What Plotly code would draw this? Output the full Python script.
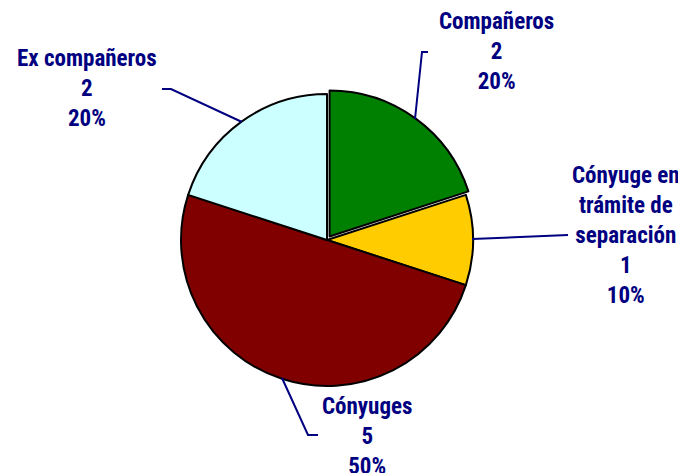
import plotly.graph_objects as go

W, H = 686, 473
OFF = 8  # default page margin around the figure
FW, FH = W - OFF, H - OFF

categories = ["Compañeros", "Cónyuge en trámite de separación", "Cónyuges", "Ex compañeros"]
label_lines = [["Compañeros"], ["Cónyuge en", "trámite de", "separación"], ["Cónyuges"], ["Ex compañeros"]]
values = [2, 1, 5, 2]
colors = ["#008000", "#FFCC00", "#800000", "#CCFFFF"]
pulls = [0.03, 0, 0, 0]

# label block centres (pixels) and leader lines (pixels), in window coordinates
label_pos = [(496, 51), (626, 235), (367, 436), (87, 88)]
leaders = [
    [(415, 119), (422, 52), (428, 52)],
    [(472, 239), (568, 235)],
    [(282, 378), (308, 435), (318, 435)],
    [(162, 89), (171, 89), (242, 122)],
]

cx, cy, r = 327, 240, 146
maxpull = max(pulls)
half = r * (1 + maxpull)

def px(x):
    return (x - OFF) / FW

def py(y):
    return 1 - (y - OFF) / FH

fig = go.Figure(go.Pie(
    labels=categories,
    values=values,
    marker=dict(colors=colors, line=dict(color="black", width=2)),
    pull=pulls,
    sort=False,
    direction="clockwise",
    rotation=0,
    textinfo="none",
    hoverinfo="label+value+percent",
    showlegend=False,
    domain=dict(x=[px(cx - half), px(cx + half)], y=[py(cy + half), py(cy - half)]),
))

total = sum(values)
font = dict(family="Roboto Condensed, Liberation Sans Narrow, Arial Narrow, Liberation Sans, Arial",
            size=23, color="#000080")
for lines, v, (lx, ly) in zip(label_lines, values, label_pos):
    pct = round(100 * v / total)
    txt = "<br>".join(["<b>%s</b>" % s for s in lines + [str(v), "%d%%" % pct]])
    fig.add_annotation(x=px(lx), y=py(ly), xref="paper", yref="paper", text=txt,
                       showarrow=False, font=font, align="center",
                       xanchor="center", yanchor="middle")

for pts in leaders:
    path = "M " + " L ".join("%f,%f" % (px(x), py(y)) for x, y in pts)
    fig.add_shape(type="path", path=path, xref="paper", yref="paper",
                  line=dict(color="#000080", width=2))

fig.update_layout(width=FW, height=FH, margin=dict(l=0, r=0, t=0, b=0),
                  paper_bgcolor="white", plot_bgcolor="white")
fig.write_html("out.html")
